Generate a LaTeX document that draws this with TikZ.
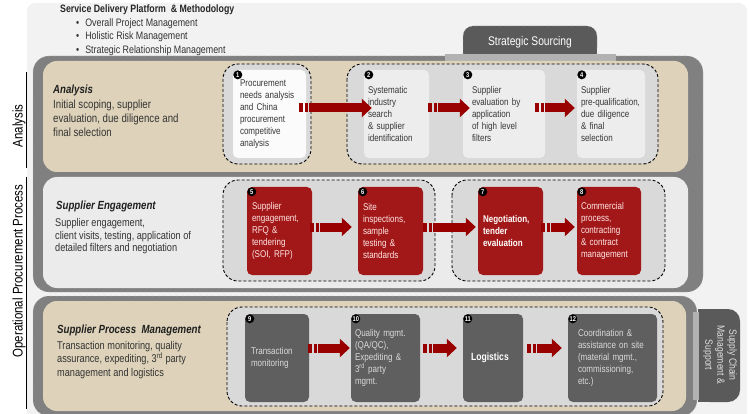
\documentclass[tikz,border=0pt]{standalone}
\usepackage{fontspec}
\setmainfont{Liberation Sans}[FakeStretch=0.82]
\usetikzlibrary{positioning,arrows.meta}

\definecolor{panelgray}{RGB}{242,242,242}
\definecolor{bandgray}{RGB}{128,128,128}
\definecolor{sectan}{RGB}{222,211,186}
\definecolor{secgray}{RGB}{235,235,235}
\definecolor{grpgray}{RGB}{217,217,217}
\definecolor{boxgray}{RGB}{237,237,237}
\definecolor{boxred}{RGB}{162,24,24}
\definecolor{arrowred}{RGB}{153,0,0}
\definecolor{boxdark}{RGB}{95,95,95}
\definecolor{tabdark}{RGB}{90,90,90}
\definecolor{stripgray}{RGB}{178,178,178}
\definecolor{txtgray}{RGB}{55,55,55}

\begin{document}
\begin{tikzpicture}[x=1pt, y=-1pt]
	\useasboundingbox (0,0) rectangle (749,414);
	\begin{scope}
		\tikzstyle{every node}=[inner sep=0pt]
		\tikzstyle{band}=[fill=bandgray, draw=gray!55, dashed, rounded corners=16pt]
		\tikzstyle{grp}=[fill=grpgray, draw=black, line width=0.9pt, dash pattern=on 3pt off 2pt, rounded corners=15pt]
		\tikzstyle{stepbox}=[rounded corners=5pt, minimum height=88pt, align=left, font=\fontsize{9.8}{12}\selectfont]
		\tikzstyle{lightbox}=[stepbox, fill=boxgray, text=txtgray]
		\tikzstyle{redbox}=[stepbox, fill=boxred, text=white!90!red]
		\tikzstyle{greybox}=[stepbox, fill=boxdark, text=white!85!black]
		\tikzstyle{badge}=[circle, fill=black, text=white, minimum size=9pt, font=\fontsize{7}{7}\selectfont\bfseries]
		\tikzstyle{flow}=[draw=arrowred, line width=9pt, dash pattern=on 4pt off 1.5pt on 3pt off 1.5pt on 500pt, -{Triangle[length=10pt,width=18pt]}]
		\tikzstyle{sectitle}=[anchor=west, font=\fontsize{11.8}{14}\selectfont\bfseries\itshape, text=black!88]
		\tikzstyle{secbody}=[anchor=north west, align=left, text=black!80]
		\tikzstyle{sidelabel}=[rotate=90, font=\fontsize{14}{16}\selectfont]

		% background
		\fill[panelgray, rounded corners=8pt] (27,3) rectangle (747,420);

		% header
		\node[anchor=west, font=\fontsize{10.7}{13}\selectfont\bfseries, text=black!85] (hdr) at (60,10) {Service Delivery Platform\ \ \& Methodology};
		\node[anchor=north west, align=left, font=\fontsize{10.8}{13.3}\selectfont, text=black!80] (hdrlist) at (76,18.5)
			{\textbullet\hspace{6pt}Overall Project Management\\ \textbullet\hspace{6pt}Holistic Risk Management\\ \textbullet\hspace{6pt}Strategic Relationship Management};

		% side labels
		\node[sidelabel] (lblan) at (19,126) {Analysis};
		\node[sidelabel] (lblop) at (19,271) {Operational Procurement Process};
		\draw[line width=0.8pt] (26,72) -- (26,168);
		\draw[line width=0.8pt] (26,177) -- (26,409);

		% strategic sourcing tab
		\fill[tabdark, rounded corners=10pt] (463,26) rectangle (597,58);
		\fill[tabdark] (463,40) rectangle (597,58);
		\draw[gray!60, dashed, rounded corners=10pt] (463,55) -- (463,26) -- (597,26) -- (597,55);
		\node[text=white, font=\fontsize{12.5}{14}\selectfont] (tabss) at (530,42) {Strategic Sourcing};

		% sections
		\draw[band] (33,56) rectangle (703,292);
		\fill[stripgray] (445,54) rectangle (616,61);
		\fill[sectan, rounded corners=14pt] (43,61) rectangle (688,172);
		\fill[secgray, rounded corners=14pt] (43,177) rectangle (688,288);
		\draw[band] (33,296) rectangle (697,416);
		\fill[sectan, rounded corners=14pt] (43,301) rectangle (686,411);

		% supply chain tab
		\fill[tabdark, rounded corners=12pt] (698,309) rectangle (740,402);
		\fill[tabdark] (698,309) rectangle (715,402);
		\fill[stripgray] (693,312) rectangle (699,400);
		\node[rotate=-90, align=center, text=white!88!black, font=\fontsize{10.5}{12}\selectfont] (tabsc) at (720,355) {Supply Chain\\Management \&\\Support};

		% section texts
		\node[sectitle] (anatitle) at (53,90) {Analysis};
		\node[secbody, font=\fontsize{11.8}{14}\selectfont] (anabody) at (53,99.5) {Initial scoping, supplier\\evaluation, due diligence and\\final selection};
		\node[sectitle] (engtitle) at (56,206) {Supplier Engagement};
		\node[secbody, font=\fontsize{11.2}{12.7}\selectfont] (engbody) at (55,218) {Supplier engagement,\\client visits, testing, application of\\detailed filters and negotiation};
		\node[sectitle] (spmtitle) at (57,330) {Supplier Process\ \ Management};
		\node[secbody, font=\fontsize{11.2}{13.5}\selectfont] (spmbody) at (57,341) {Transaction monitoring, quality\\assurance, expediting, 3\textsuperscript{rd} party\\management and logistics};

		% groups
		\draw[grp] (223,64) rectangle (311,164);
		\draw[grp] (347,64) rectangle (658,164);
		\draw[grp] (223,180) rectangle (435,281);
		\draw[grp] (452,180) rectangle (665,281);
		\draw[grp] (227,307) rectangle (663,406);

		% steps
		\node[lightbox, fill=white!97!gray, inner xsep=7pt, text width=59pt] (proc) at (269.5,114) {Procurement\\needs analysis\\and China\\procurement\\competitive\\analysis};
		\node[lightbox, inner xsep=4pt, text width=57pt] (search) at (396.5,114) {Systematic\\industry\\search\\\& supplier\\identification};
		\node[lightbox, inner xsep=9pt, text width=64pt] (eval) at (504,114) {Supplier\\evaluation by\\application\\of high level\\filters};
		\node[lightbox, inner xsep=4pt, text width=60pt] (prequal) at (611,114) {Supplier\\pre-qualification,\\due diligence\\\& final\\selection};

		\node[redbox, inner xsep=5pt, text width=55pt] (engage) at (279.5,231) {Supplier\\engagement,\\RFQ \&\\tendering\\(SOI, RFP)};
		\node[redbox, inner xsep=5pt, text width=55pt] (site) at (390.5,231) {Site\\inspections,\\sample\\testing \&\\standards};
		\node[redbox, inner xsep=5pt, text width=55pt, text=white, font=\fontsize{9.8}{12}\selectfont\bfseries] (nego) at (510.5,231) {Negotiation,\\tender\\evaluation};
		\node[redbox, inner xsep=4pt, text width=56pt] (comm) at (609,231) {Commercial\\process,\\contracting\\\& contract\\management};

		\node[greybox, inner xsep=6pt, text width=52pt] (trans) at (277,358) {Transaction\\monitoring};
		\node[greybox, inner xsep=4pt, text width=61pt] (qual) at (385.5,358) {Quality mgmt.\\(QA/QC),\\Expediting \&\\3\textsuperscript{rd} party\\mgmt.};
		\node[greybox, inner xsep=8pt, text width=44pt, text=white, font=\fontsize{10.5}{12}\selectfont\bfseries] (logi) at (493,358) {Logistics};
		\node[greybox, inner xsep=10pt, text width=69pt] (coord) at (612.5,358) {Coordination \&\\assistance on site\\(material mgmt.,\\commissioning,\\etc.)};

		% badges
		\node[badge] (n1) at ([xshift=5pt,yshift=-5pt]proc.north west) {1};
		\node[badge] (n2) at ([xshift=5pt,yshift=-5pt]search.north west) {2};
		\node[badge] (n3) at ([xshift=5pt,yshift=-5pt]eval.north west) {3};
		\node[badge] (n4) at ([xshift=5pt,yshift=-5pt]prequal.north west) {4};
		\node[badge] (n5) at ([xshift=5pt,yshift=-5pt]engage.north west) {5};
		\node[badge] (n6) at ([xshift=5pt,yshift=-5pt]site.north west) {6};
		\node[badge] (n7) at ([xshift=5pt,yshift=-5pt]nego.north west) {7};
		\node[badge] (n8) at ([xshift=5pt,yshift=-5pt]comm.north west) {8};
		\node[badge] (n9) at ([xshift=5pt,yshift=-5pt]trans.north west) {9};
		\node[badge] (n10) at ([xshift=5pt,yshift=-5pt]qual.north west) {10};
		\node[badge] (n11) at ([xshift=5pt,yshift=-5pt]logi.north west) {11};
		\node[badge] (n12) at ([xshift=5pt,yshift=-5pt]coord.north west) {12};

		% flow arrows
		\draw[flow] ([xshift=-7pt,yshift=6pt]proc.east) -- ([xshift=8pt,yshift=6pt]search.west);
		\draw[flow] ([xshift=-1pt,yshift=6pt]search.east) -- ([xshift=7pt,yshift=6pt]eval.west);
		\draw[flow] ([xshift=-10pt,yshift=6pt]eval.east) -- ([xshift=-2pt,yshift=6pt]prequal.west);
		\draw[flow] ([xshift=-2pt,yshift=4pt]engage.east) -- ([xshift=-6pt,yshift=4pt]site.west);
		\draw[flow] ([yshift=4pt]site.east) -- ([xshift=-2pt,yshift=4pt]nego.west);
		\draw[flow] ([xshift=-2pt,yshift=4pt]nego.east) -- ([xshift=-2pt,yshift=4pt]comm.west);
		\draw[flow] ([xshift=-1pt,yshift=10pt]trans.east) -- ([xshift=-1pt,yshift=10pt]qual.west);
		\draw[flow] ([xshift=3pt,yshift=10pt]qual.east) -- ([xshift=-6pt,yshift=10pt]logi.west);
		\draw[flow] ([xshift=4pt,yshift=10pt]logi.east) -- ([xshift=-6pt,yshift=10pt]coord.west);
	\end{scope}
\end{tikzpicture}
\end{document}
